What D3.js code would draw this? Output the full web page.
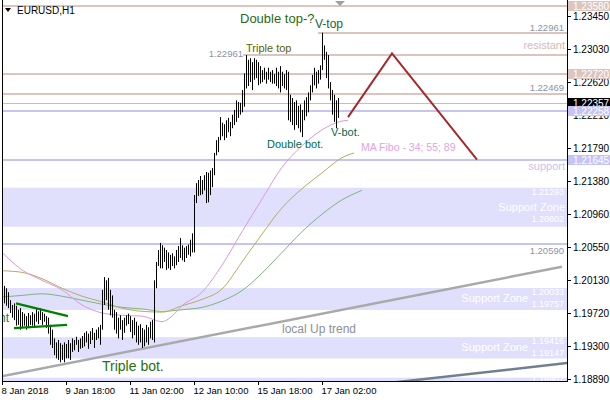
<!DOCTYPE html>
<html><head><meta charset="utf-8">
<script src="https://cdn.jsdelivr.net/npm/d3@7"></script>
<style>
body{margin:0;background:#fff;}
svg{display:block;font-family:"Liberation Sans",Arial,sans-serif;}
</style>
</head><body>
<svg id="c" width="610" height="400"></svg>
<script>
// ---------- DATA ----------
const highs = [
1.2001,1.2006,1.2003,1.1998,1.1988,1.1982,1.1984,1.1981,1.1976,1.1978,
1.1973,1.1971,1.1968,1.1972,1.1969,1.1973,1.1971,1.1977,1.1974,1.1978,
1.1973,1.1971,1.1968,1.1966,1.1957,1.1951,1.1940,1.1935,1.1938,1.1934,
1.1932,1.1935,1.1933,1.1938,1.1934,1.1940,1.1938,1.1942,1.1938,1.1940,
1.1943,1.1947,1.1949,1.1946,1.1949,1.1953,1.1947,1.1951,1.1954,1.1957,
1.2001,1.2017,1.2013,1.2016,1.2001,1.1994,1.1976,1.1973,1.1966,1.1969,
1.1963,1.1966,1.1969,1.1971,1.1968,1.1963,1.1966,1.1961,1.1956,1.1958,
1.1953,1.1951,1.1957,1.1954,1.1961,1.1963,1.2013,1.2036,1.2051,1.2060,
1.2057,1.2054,1.2051,1.2048,1.2045,1.2047,1.2043,1.2051,1.2056,1.2066,
1.2057,1.2054,1.2056,1.2058,1.2064,1.2072,1.2120,1.2135,1.2139,1.2144,
1.2139,1.2145,1.2149,1.2148,1.2151,1.2154,1.2173,1.2189,1.2193,1.2218,
1.2211,1.2209,1.2214,1.2217,1.2212,1.2221,1.2227,1.2239,1.2237,1.2236,
1.2252,1.2273,1.2296,1.2290,1.2292,1.2287,1.2292,1.2290,1.2287,1.2282,
1.2277,1.2280,1.2275,1.2280,1.2275,1.2277,1.2272,1.2280,1.2275,1.2282,
1.2275,1.2272,1.2277,1.2275,1.2246,1.2242,1.2237,1.2239,1.2232,1.2234,
1.2227,1.2239,1.2243,1.2249,1.2258,1.2271,1.2280,1.2275,1.2277,1.2283,
1.2324,1.2308,1.2300,1.2296,1.2262,1.2252,1.2246,1.2239,1.2242];
const lows = [
1.1988,1.1984,1.1981,1.1978,1.1972,1.1966,1.1963,1.1956,1.1957,1.1951,
1.1953,1.1956,1.1951,1.1954,1.1957,1.1956,1.1953,1.1961,1.1958,1.1963,
1.1957,1.1961,1.1953,1.1946,1.1932,1.1928,1.1919,1.1915,1.1913,1.1910,
1.1913,1.1910,1.1915,1.1915,1.1913,1.1923,1.1925,1.1932,1.1923,1.1927,
1.1928,1.1930,1.1935,1.1927,1.1933,1.1938,1.1928,1.1938,1.1940,1.1932,
1.1951,1.1982,1.1988,1.1976,1.1969,1.1966,1.1951,1.1946,1.1940,1.1951,
1.1938,1.1947,1.1956,1.1958,1.1948,1.1940,1.1944,1.1935,1.1932,1.1935,
1.1928,1.1930,1.1935,1.1932,1.1940,1.1938,1.1935,1.2003,1.2031,1.2028,
1.2028,1.2036,1.2026,1.2028,1.2026,1.2031,1.2028,1.2032,1.2036,1.2041,
1.2038,1.2036,1.2041,1.2045,1.2043,1.2048,1.2048,1.2110,1.2119,1.2120,
1.2121,1.2126,1.2110,1.2111,1.2120,1.2130,1.2145,1.2170,1.2174,1.2189,
1.2194,1.2189,1.2192,1.2199,1.2194,1.2204,1.2208,1.2212,1.2217,1.2221,
1.2224,1.2231,1.2254,1.2257,1.2262,1.2252,1.2265,1.2267,1.2258,1.2260,
1.2262,1.2265,1.2260,1.2265,1.2262,1.2260,1.2260,1.2257,1.2254,1.2249,
1.2257,1.2254,1.2252,1.2214,1.2212,1.2208,1.2202,1.2208,1.2204,1.2199,
1.2193,1.2214,1.2219,1.2224,1.2239,1.2249,1.2258,1.2254,1.2260,1.2265,
1.2277,1.2290,1.2267,1.2254,1.2239,1.2221,1.2212,1.2204,1.2217];

const xTickIdx = [0, 32, 64, 96, 128, 160];
const xTickLabels = ["8 Jan 2018","9 Jan 18:00","11 Jan 02:00","12 Jan 10:00","15 Jan 18:00","17 Jan 02:00"];
const yTicks = [1.23450,1.23030,1.22620,1.22210,1.21790,1.21380,1.20960,1.20550,1.20130,1.19720,1.19300,1.18890];

const ma34Idx = [0,10,20,30,40,50,60,70,80,85,90,100,110,120,130,140,150,160,170,173];
const ma34 = [1.2048,1.2026,1.2013,1.2001,1.1982,1.1972,1.1969,1.1968,1.1961,1.1968,1.1981,1.1998,1.2032,1.2074,1.2115,1.2155,1.2182,1.2202,1.2213,1.2214];
const ma55Idx = [0,10,20,30,40,50,60,70,80,90,100,110,120,130,140,150,160,170,176];
const ma55 = [1.2025,1.2023,1.2015,1.2003,1.1993,1.1986,1.1978,1.1974,1.1973,1.1981,1.1989,1.2002,1.2036,1.2071,1.2104,1.2128,1.2148,1.2167,1.2173];
const ma89Idx = [0,10,20,30,40,50,60,70,80,90,100,110,120,130,140,150,160,170,180];
const ma89 = [1.1992,1.1994,1.1996,1.1993,1.1988,1.1983,1.1979,1.1977,1.1974,1.1976,1.1979,1.1987,1.2000,1.2022,1.2048,1.2074,1.2096,1.2114,1.2126];

const levelPrices = [1.23580, 1.23240, 1.22961, 1.22720, 1.22469, 1.22357, 1.22258, 1.21645, 1.20590];
const levelFrom   = [0, 158, 120.5, 0, 0, 0, 0, 0, 0];
const levelKind   = ["res","res","res","res","res","bid","sup","sup","sup"];

const zoneTop    = [1.21293, 1.20033, 1.19416, 1.18907];
const zoneBottom = [1.20802, 1.19757, 1.19147, 1.18600];

const boxPrices = [1.23580, 1.22720, 1.22357, 1.22258, 1.21645];
const boxKind   = ["res","res","bid","sup","sup"];

const upTrendIdx = [-1, 280],   upTrendP = [1.1892, 1.2030];
const lowTrendIdx = [190, 282.5], lowTrendP = [1.1883, 1.1909];
const projIdx = [173, 195, 237.5], projP = [1.2218, 1.2298, 1.21645];
const triUpIdx = [7, 33], triUpP = [1.1984, 1.1968];
const triLoIdx = [6, 32.5], triLoP = [1.1953, 1.1957];

// ---------- DRAW ----------
const svg = d3.select("#c");
const L = 2, R = 567, B = 381;
const x = d3.scaleLinear().domain([0, 282]).range([2, 566]);
const y = d3.scaleLinear().domain([1.18890, 1.23450]).range([379, 16]);
const col = {res:"#dcc5bf", sup:"#c4c4f6", bid:"#c0c0c0", zone:"#e0e0fc"};

svg.append("defs").append("clipPath").attr("id","clip")
  .append("rect").attr("x",L).attr("y",0).attr("width",R-L).attr("height",B);

const g = svg.append("g").attr("clip-path","url(#clip)");

// zones
zoneTop.forEach((t,i)=>{
  g.append("rect").attr("x",L).attr("width",R-L)
   .attr("y",y(t)).attr("height",y(zoneBottom[i])-y(t)).attr("fill",col.zone);
});

// level lines
levelPrices.forEach((p,i)=>{
  const yy = Math.round(y(p));
  g.append("line").attr("x1", levelFrom[i] ? x(levelFrom[i]) : L).attr("x2",R)
   .attr("y1",yy).attr("y2",yy)
   .attr("stroke",col[levelKind[i]]).attr("stroke-width", levelKind[i]==="bid"?1:2)
   .attr("shape-rendering","crispEdges");
});

// trend lines
const line = d3.line();
function poly(idx, pr){ return line(idx.map((d,k)=>[x(d), y(pr[k])])); }
g.append("path").attr("d",poly(upTrendIdx,upTrendP)).attr("fill","none").attr("stroke","#a9a9a9").attr("stroke-width",2.5);
g.append("path").attr("d",poly(lowTrendIdx,lowTrendP)).attr("fill","none").attr("stroke","#708090").attr("stroke-width",2.5);

// moving averages
const maLine = d3.line().curve(d3.curveMonotoneX);
function ma(idx, vals, c){
  g.append("path").attr("d", maLine(idx.map((d,k)=>[x(d), y(vals[k])])))
   .attr("fill","none").attr("stroke",c).attr("stroke-width",1);
}
ma(ma89Idx, ma89, "#80b480");
ma(ma55Idx, ma55, "#b8ac60");
ma(ma34Idx, ma34, "#dd99dd");

// bars
g.selectAll("line.bar").data(highs).enter().append("line").attr("class","bar")
  .attr("x1",(d,i)=>Math.round(x(i))+0.5).attr("x2",(d,i)=>Math.round(x(i))+0.5)
  .attr("y1",d=>y(d)).attr("y2",(d,i)=>y(lows[i]))
  .attr("stroke","#000").attr("stroke-width",1);

// triangle & projection
g.append("path").attr("d",poly(triUpIdx,triUpP)).attr("fill","none").attr("stroke","#008000").attr("stroke-width",2.2);
g.append("path").attr("d",poly(triLoIdx,triLoP)).attr("fill","none").attr("stroke","#008000").attr("stroke-width",2.2);
g.append("path").attr("d",poly(projIdx,projP)).attr("fill","none").attr("stroke","#a6282a").attr("stroke-width",2);

// texts
function txt(t, tx, ty, size, color, anchor){
  g.append("text").attr("x",tx).attr("y",ty).attr("dy","0.35em")
   .attr("font-size",size).attr("fill",color).attr("text-anchor",anchor||"start").text(t);
}
const num = "#8a92aa";
txt("EURUSD,H1", 17, 10, 10, "#000");
g.append("path").attr("d","M5,8 L11,8 L8,12 Z").attr("fill","#000");
g.append("path").attr("d","M335,1 L345,1 L340,6 Z").attr("fill","#a0a0a0");
txt("Double top-?", 240, 18, 13, "#2a6a12");
txt("V-top", 315, 24, 12, "#14683a");
txt("Triple top", 246, 48, 11, "#5a6400");
txt("1.22961", 243, 54, 9.5, num, "end");
txt("1.22961", 564, 28, 9.5, num, "end");
txt("resistant", 565, 45, 11, "#d4bab5", "end");
txt("1.22469", 564, 88, 9.5, num, "end");
txt("V-bot.", 331, 132, 11, "#006a50");
txt("Double bot.", 267, 144, 11, "#006a50");
txt("MA Fibo - 34; 55; 89", 361, 147, 10.5, "#e0a4e0");
txt("support", 565, 166, 11, "#c4c4f0", "end");
txt("1.21293", 564, 192, 9, "#fff", "end");
txt("Support Zone", 565, 207, 11, "#fff", "end");
txt("1.20802", 564, 219, 9, "#fff", "end");
txt("1.20590", 564, 251, 9.5, num, "end");
txt("1.20033", 564, 292, 9, "#fff", "end");
txt("Support Zone", 528, 298, 11, "#fff", "end");
txt("1.19757", 564, 304, 9, "#fff", "end");
txt("1.19416", 564, 341, 9, "#fff", "end");
txt("Support Zone", 528, 347, 11, "#fff", "end");
txt("1.19147", 564, 353, 9, "#fff", "end");
txt("1.18907", 564, 379, 9, "#fff", "end");
txt("local Up trend", 282, 329, 12, "#8c9099");
txt("Triple bot.", 102, 366, 14, "#2a7010");
txt("nt", -1, 318, 12, "#1a7a50");

// axes frame
svg.append("line").attr("x1",2.5).attr("x2",2.5).attr("y1",0).attr("y2",B+0.5).attr("stroke","#000");
svg.append("line").attr("x1",R+0.5).attr("x2",R+0.5).attr("y1",0).attr("y2",B+0.5).attr("stroke","#000");
svg.append("line").attr("x1",2).attr("x2",R+1).attr("y1",B+0.5).attr("y2",B+0.5).attr("stroke","#000");

// y axis ticks
yTicks.forEach(p=>{
  const yy = Math.round(y(p))+0.5;
  svg.append("line").attr("x1",R).attr("x2",R+4).attr("y1",yy).attr("y2",yy).attr("stroke","#000");
  svg.append("text").attr("x",573).attr("y",yy).attr("dy","0.35em").attr("font-size",10)
     .attr("fill","#000").text(p.toFixed(5));
});
// price boxes
const boxBg = {res:"#dcc5bf", sup:"#c4c4f6", bid:"#000"};
boxPrices.forEach((p,i)=>{
  const yy = y(p);
  svg.append("rect").attr("x",R+1).attr("y",Math.round(yy)-5).attr("width",610-R-1).attr("height",10)
     .attr("fill",boxBg[boxKind[i]]);
  svg.append("text").attr("x",573).attr("y",Math.round(yy)).attr("dy","0.35em").attr("font-size",10)
     .attr("fill","#fff").text(p.toFixed(5));
});

// x axis ticks
xTickIdx.forEach((d,i)=>{
  const xx = Math.round(x(d))+0.5;
  svg.append("line").attr("x1",xx).attr("x2",xx).attr("y1",B).attr("y2",B+4).attr("stroke","#000");
  svg.append("text").attr("x",xx-1).attr("y",394).attr("font-size",9.5).attr("fill","#000").text(xTickLabels[i]);
});
</script>
</body></html>
